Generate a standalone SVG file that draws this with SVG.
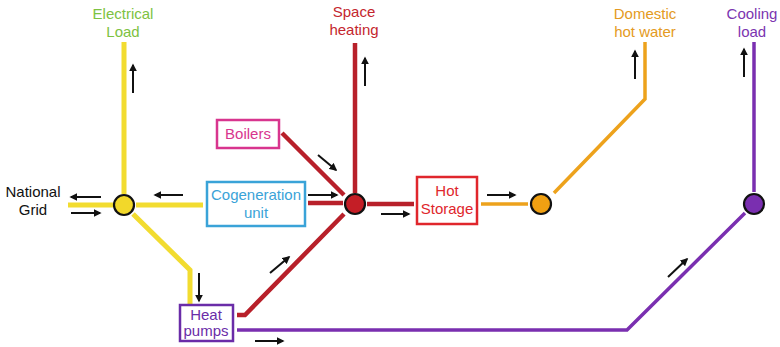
<svg xmlns="http://www.w3.org/2000/svg" width="780" height="347" viewBox="0 0 780 347">
<defs>
<marker id="ah" viewBox="0 0 10 10" refX="8" refY="5" markerWidth="4" markerHeight="4" orient="auto">
<path d="M0,0 L10,5 L0,10 z" fill="#111"/>
</marker>
<style>
text{font-family:"Liberation Sans",Arial,sans-serif;font-size:15px;text-anchor:middle}
.ar{stroke:#111;stroke-width:2;fill:none;marker-end:url(#ah)}
.y{stroke:#f2dc30;stroke-width:5;fill:none}
.r{stroke:#b8202a;stroke-width:4.5;fill:none}
.o{stroke:#eda21c;stroke-width:3.5;fill:none}
.p{stroke:#7a2fb0;stroke-width:3.5;fill:none}
.n{stroke:#111;stroke-width:2.2}
.box{fill:#fff;stroke-width:2.5}
</style>
</defs>
<g id="connectors">
<path class="y" d="M124,42 V194"/>
<path class="y" d="M68,205 H113"/>
<path class="y" d="M136,205 H203"/>
<path class="y" d="M133,214 L190,270 V304"/>
<path class="r" d="M355,43 V193"/>
<path class="r" d="M282,133 L344,195"/>
<path class="r" d="M308,203 H343"/>
<path class="r" d="M367,204 H414"/>
<path class="r" d="M237,315 H245 L344,214"/>
<path class="o" d="M481,204 H528"/>
<path class="o" d="M645,42 V99 L554,193"/>
<path class="p" d="M754,42 V192"/>
<path class="p" d="M237,330 H627 L745,213"/>
<path class="ar" d="M133,93 V65"/>
<path class="ar" d="M365,86 V58"/>
<path class="ar" d="M635,79 V51"/>
<path class="ar" d="M744,77 V49"/>
<path class="ar" d="M101,197 H71"/>
<path class="ar" d="M71,213 H100"/>
<path class="ar" d="M183,195 H155"/>
<path class="ar" d="M318,155 L336,170"/>
<path class="ar" d="M308,195 H337"/>
<path class="ar" d="M381,214 H409"/>
<path class="ar" d="M487,195 H515"/>
<path class="ar" d="M199,273 V301"/>
<path class="ar" d="M270,273 L289,257"/>
<path class="ar" d="M668,277 L687,259"/>
<path class="ar" d="M255,341 H283"/>
</g>
<g id="electrical-load"><text x="123" y="19" fill="#7dc242">Electrical</text><text x="123" y="37" fill="#7dc242">Load</text></g>
<g id="space-heating"><text x="354" y="17" fill="#c4262e">Space</text><text x="354" y="35" fill="#c4262e">heating</text></g>
<g id="domestic-hot-water"><text x="645" y="19" fill="#e49a22">Domestic</text><text x="645" y="37" fill="#e49a22">hot water</text></g>
<g id="cooling-load"><text x="752" y="19" fill="#7b35b0">Cooling</text><text x="752" y="37" fill="#7b35b0">load</text></g>
<g id="national-grid"><text x="33" y="197" fill="#111">National</text><text x="33" y="215" fill="#111">Grid</text></g>
<g id="elec-node"><circle cx="124" cy="205" r="10" fill="#f2d82a" class="n"/></g>
<g id="heat-node"><circle cx="355" cy="204" r="10" fill="#c41e26" class="n"/></g>
<g id="dhw-node"><circle cx="541" cy="204" r="10" fill="#f0a012" class="n"/></g>
<g id="cool-node"><circle cx="754" cy="204" r="10" fill="#7a2fb0" class="n"/></g>
<g id="boilers"><rect x="217" y="120" width="62" height="28" class="box" stroke="#d8358e"/><text x="248" y="139" fill="#d8358e">Boilers</text></g>
<g id="cogeneration"><rect x="207" y="182" width="98" height="44" class="box" stroke="#3aa3d8"/><text x="256" y="200" fill="#3aa3d8">Cogeneration</text><text x="256" y="218" fill="#3aa3d8">unit</text></g>
<g id="hot-storage"><rect x="417" y="177" width="60" height="47" class="box" stroke="#e0262c"/><text x="447" y="196" fill="#e0262c">Hot</text><text x="447" y="214" fill="#e0262c">Storage</text></g>
<g id="heat-pumps"><rect x="180" y="305" width="53" height="36" class="box" stroke="#6a2ca8"/><text x="206" y="320" fill="#6a2ca8">Heat</text><text x="206" y="336" fill="#6a2ca8">pumps</text></g>
</svg>
